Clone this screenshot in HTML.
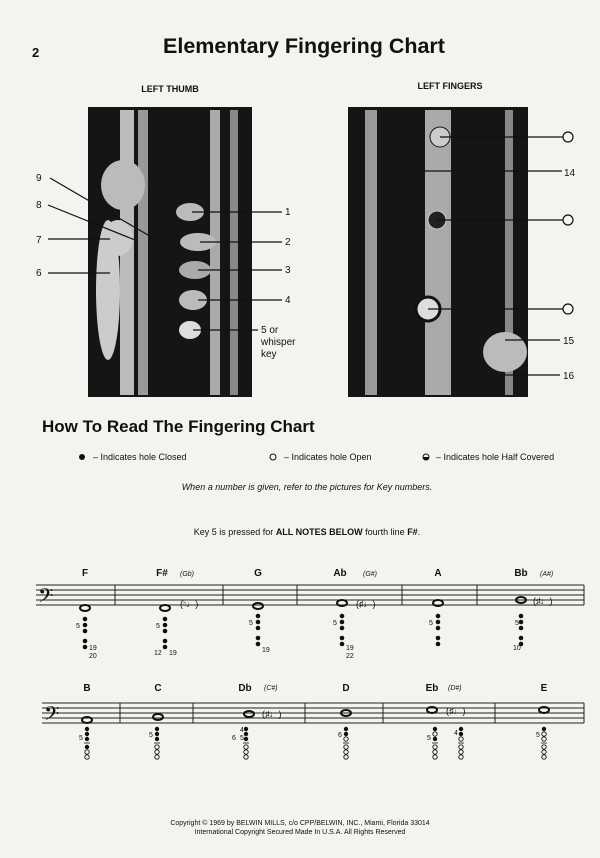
<!DOCTYPE html>
<html><head><meta charset="utf-8"><style>
body{margin:0;background:#f3f3ef;}
svg{display:block}
text{font-family:"Liberation Sans",sans-serif;fill:#111}
</style></head><body>
<svg width="600" height="858" viewBox="0 0 600 858">
<rect width="600" height="858" fill="#f3f3ef"/>
<text x="32" y="57" font-size="13" font-weight="bold">2</text>
<text x="304" y="53" font-size="21.5" font-weight="bold" text-anchor="middle">Elementary Fingering Chart</text>
<text x="170" y="92" font-size="9" font-weight="bold" text-anchor="middle">LEFT THUMB</text>
<text x="450" y="89" font-size="9" font-weight="bold" text-anchor="middle">LEFT FINGERS</text>
<!-- left photo -->
<rect x="88" y="107" width="164" height="290" fill="#151515"/>
<rect x="120" y="110" width="14" height="285" fill="#bbb"/>
<rect x="138" y="110" width="10" height="285" fill="#999"/>
<rect x="210" y="110" width="10" height="285" fill="#aaa"/>
<rect x="230" y="110" width="8" height="285" fill="#888"/>
<ellipse cx="123" cy="185" rx="22" ry="25" fill="#bbb"/>
<ellipse cx="118" cy="238" rx="15" ry="18" fill="#ccc"/>
<ellipse cx="108" cy="290" rx="12" ry="70" fill="#ccc"/>
<ellipse cx="190" cy="212" rx="14" ry="9" fill="#bbb"/>
<ellipse cx="198" cy="242" rx="18" ry="9" fill="#bbb"/>
<ellipse cx="195" cy="270" rx="16" ry="9" fill="#aaa"/>
<ellipse cx="193" cy="300" rx="14" ry="10" fill="#bbb"/>
<ellipse cx="190" cy="330" rx="11" ry="9" fill="#ddd"/>
<g stroke="#111" stroke-width="1.2">
<line x1="50" y1="178" x2="160" y2="242"/><line x1="48" y1="205" x2="135" y2="240"/>
<line x1="48" y1="239" x2="110" y2="239"/><line x1="48" y1="273" x2="110" y2="273"/>
<line x1="192" y1="212" x2="282" y2="212"/><line x1="200" y1="242" x2="282" y2="242"/>
<line x1="198" y1="270" x2="282" y2="270"/><line x1="198" y1="300" x2="282" y2="300"/>
<line x1="193" y1="330" x2="258" y2="330"/>
</g>
<g font-size="10"><text x="36" y="181">9</text><text x="36" y="208">8</text><text x="36" y="243">7</text><text x="36" y="276">6</text>
<text x="285" y="215">1</text><text x="285" y="245">2</text><text x="285" y="273">3</text><text x="285" y="303">4</text>
<text x="261" y="333">5 or</text><text x="261" y="345">whisper</text><text x="261" y="357">key</text></g>
<!-- right photo -->
<rect x="348" y="107" width="180" height="290" fill="#151515"/>
<rect x="365" y="110" width="12" height="285" fill="#999"/>
<rect x="425" y="110" width="26" height="285" fill="#aaa"/>
<rect x="505" y="110" width="8" height="285" fill="#888"/>
<circle cx="440" cy="137" r="10" fill="#ccc" stroke="#111"/>
<circle cx="437" cy="220" r="9" fill="#222" stroke="#ccc"/>
<circle cx="428" cy="309" r="12" fill="#ddd" stroke="#111" stroke-width="3"/>
<ellipse cx="505" cy="352" rx="22" ry="20" fill="#bbb"/>
<g stroke="#111" stroke-width="1.2" fill="#f3f3ef">
<line x1="440" y1="137" x2="563" y2="137"/><circle cx="568" cy="137" r="5"/>
<line x1="380" y1="171" x2="562" y2="171"/>
<line x1="437" y1="220" x2="563" y2="220"/><circle cx="568" cy="220" r="5"/>
<line x1="428" y1="309" x2="563" y2="309"/><circle cx="568" cy="309" r="5"/>
<line x1="505" y1="340" x2="560" y2="340"/><line x1="505" y1="375" x2="560" y2="375"/>
</g>
<g font-size="10"><text x="564" y="176">14</text><text x="563" y="344">15</text><text x="563" y="379">16</text></g>
<text x="42" y="432" font-size="17" font-weight="bold">How To Read The Fingering Chart</text>
<circle cx="82" cy="457" r="3" fill="#111"/><text x="93" y="460" font-size="9">–  Indicates hole Closed</text>
<circle cx="273" cy="457" r="3" fill="none" stroke="#111"/><text x="284" y="460" font-size="9">–  Indicates hole Open</text>
<circle cx="426" cy="457" r="3" fill="none" stroke="#111"/><path d="M423 457a3 3 0 0 0 6 0z" fill="#111"/><text x="436" y="460" font-size="9">–  Indicates hole Half Covered</text>
<text x="307" y="490" font-size="9" font-style="italic" text-anchor="middle">When a number is given, refer to the pictures for Key numbers.</text>
<text x="307" y="535" font-size="9" text-anchor="middle">Key 5 is pressed for <tspan font-weight="bold">ALL NOTES BELOW</tspan> fourth line <tspan font-weight="bold">F#</tspan>.</text>
<!-- staves -->
<g stroke="#222" stroke-width="1">
<line x1="36" y1="585" x2="584" y2="585"/><line x1="36" y1="590" x2="584" y2="590"/><line x1="36" y1="595" x2="584" y2="595"/><line x1="36" y1="600" x2="584" y2="600"/><line x1="36" y1="605" x2="584" y2="605"/>
<line x1="115" y1="585" x2="115" y2="605"/><line x1="223" y1="585" x2="223" y2="605"/><line x1="297" y1="585" x2="297" y2="605"/><line x1="402" y1="585" x2="402" y2="605"/><line x1="477" y1="585" x2="477" y2="605"/><line x1="584" y1="585" x2="584" y2="605"/>
<line x1="42" y1="703" x2="584" y2="703"/><line x1="42" y1="708" x2="584" y2="708"/><line x1="42" y1="713" x2="584" y2="713"/><line x1="42" y1="718" x2="584" y2="718"/><line x1="42" y1="723" x2="584" y2="723"/>
<line x1="120" y1="703" x2="120" y2="723"/><line x1="193" y1="703" x2="193" y2="723"/><line x1="305" y1="703" x2="305" y2="723"/><line x1="383" y1="703" x2="383" y2="723"/><line x1="495" y1="703" x2="495" y2="723"/><line x1="584" y1="703" x2="584" y2="723"/>
</g>
<text x="38" y="606" font-size="24">𝄢</text><text x="44" y="724" font-size="24">𝄢</text>
<g font-size="10" font-weight="bold" text-anchor="middle">
<text x="85" y="576">F</text><text x="162" y="576">F#</text><text x="258" y="576">G</text><text x="340" y="576">Ab</text><text x="438" y="576">A</text><text x="521" y="576">Bb</text>
<text x="87" y="691">B</text><text x="158" y="691">C</text><text x="245" y="691">Db</text><text x="346" y="691">D</text><text x="432" y="691">Eb</text><text x="544" y="691">E</text>
</g>
<g font-size="7" font-style="italic"><text x="180" y="576">(Gb)</text><text x="363" y="576">(G#)</text><text x="540" y="576">(A#)</text><text x="264" y="690">(C#)</text><text x="448" y="690">(D#)</text></g>
<g fill="none" stroke="#111" stroke-width="2">
<ellipse cx="85" cy="608" rx="5" ry="3"/><ellipse cx="165" cy="608" rx="5" ry="3"/><ellipse cx="258" cy="606" rx="5" ry="3"/><ellipse cx="342" cy="603" rx="5" ry="3"/><ellipse cx="438" cy="603" rx="5" ry="3"/><ellipse cx="521" cy="600" rx="5" ry="3"/>
<ellipse cx="87" cy="720" rx="5" ry="3"/><ellipse cx="158" cy="717" rx="5" ry="3"/><ellipse cx="249" cy="714" rx="5" ry="3"/><ellipse cx="346" cy="713" rx="5" ry="3"/><ellipse cx="432" cy="710" rx="5" ry="3"/><ellipse cx="544" cy="710" rx="5" ry="3"/>
</g>
<g font-size="9"><text x="356" y="607">(♯♩)</text><text x="533" y="604">(♯♩)</text><text x="180" y="607">(♮♩)</text><text x="262" y="717">(♯♩)</text><text x="446" y="714">(♯♩)</text></g>
<g fill="#111">
<circle cx="85" cy="619" r="2.3"/><circle cx="85" cy="625" r="2.3"/><circle cx="85" cy="631" r="2.3"/><circle cx="85" cy="641" r="2.3"/><circle cx="85" cy="647" r="2.3"/>
<circle cx="165" cy="619" r="2.3"/><circle cx="165" cy="625" r="2.3"/><circle cx="165" cy="631" r="2.3"/><circle cx="165" cy="641" r="2.3"/><circle cx="165" cy="647" r="2.3"/>
<circle cx="258" cy="616" r="2.3"/><circle cx="258" cy="622" r="2.3"/><circle cx="258" cy="628" r="2.3"/><circle cx="258" cy="638" r="2.3"/><circle cx="258" cy="644" r="2.3"/>
<circle cx="342" cy="616" r="2.3"/><circle cx="342" cy="622" r="2.3"/><circle cx="342" cy="628" r="2.3"/><circle cx="342" cy="638" r="2.3"/><circle cx="342" cy="644" r="2.3"/>
<circle cx="438" cy="616" r="2.3"/><circle cx="438" cy="622" r="2.3"/><circle cx="438" cy="628" r="2.3"/><circle cx="438" cy="638" r="2.3"/><circle cx="438" cy="644" r="2.3"/>
<circle cx="521" cy="616" r="2.3"/><circle cx="521" cy="622" r="2.3"/><circle cx="521" cy="628" r="2.3"/><circle cx="521" cy="638" r="2.3"/><circle cx="521" cy="644" r="2.3"/>
<circle cx="87" cy="729" r="2.2"/><circle cx="87" cy="734" r="2.2"/><circle cx="87" cy="739" r="2.2"/><circle cx="87" cy="747" r="2.2"/>
<circle cx="157" cy="729" r="2.2"/><circle cx="157" cy="734" r="2.2"/><circle cx="157" cy="739" r="2.2"/>
<circle cx="246" cy="729" r="2.2"/><circle cx="246" cy="734" r="2.2"/><circle cx="246" cy="739" r="2.2"/>
<circle cx="346" cy="729" r="2.2"/><circle cx="346" cy="734" r="2.2"/>
<circle cx="435" cy="729" r="2.2"/><circle cx="435" cy="739" r="2.2"/><circle cx="461" cy="729" r="2.2"/><circle cx="461" cy="734" r="2.2"/>
<circle cx="544" cy="729" r="2.2"/>
</g>
<g fill="none" stroke="#111" stroke-width="0.9">
<circle cx="87" cy="752" r="2.2"/><circle cx="87" cy="757" r="2.2"/>
<circle cx="157" cy="747" r="2.2"/><circle cx="157" cy="752" r="2.2"/><circle cx="157" cy="757" r="2.2"/>
<circle cx="246" cy="747" r="2.2"/><circle cx="246" cy="752" r="2.2"/><circle cx="246" cy="757" r="2.2"/>
<circle cx="346" cy="739" r="2.2"/><circle cx="346" cy="747" r="2.2"/><circle cx="346" cy="752" r="2.2"/><circle cx="346" cy="757" r="2.2"/>
<circle cx="435" cy="734" r="2.2"/><circle cx="435" cy="747" r="2.2"/><circle cx="435" cy="752" r="2.2"/><circle cx="435" cy="757" r="2.2"/>
<circle cx="461" cy="739" r="2.2"/><circle cx="461" cy="747" r="2.2"/><circle cx="461" cy="752" r="2.2"/><circle cx="461" cy="757" r="2.2"/>
<circle cx="544" cy="734" r="2.2"/><circle cx="544" cy="739" r="2.2"/><circle cx="544" cy="747" r="2.2"/><circle cx="544" cy="752" r="2.2"/><circle cx="544" cy="757" r="2.2"/>
</g>
<g stroke="#111" stroke-width="0.8">
<line x1="84" y1="743" x2="90" y2="743"/><line x1="154" y1="743" x2="160" y2="743"/><line x1="243" y1="743" x2="249" y2="743"/><line x1="343" y1="743" x2="349" y2="743"/><line x1="432" y1="743" x2="438" y2="743"/><line x1="458" y1="743" x2="464" y2="743"/><line x1="541" y1="743" x2="547" y2="743"/>
</g>
<g font-size="7">
<text x="76" y="628">5</text><text x="89" y="650">19</text><text x="89" y="658">20</text>
<text x="156" y="628">5</text><text x="154" y="655">12</text><text x="169" y="655">19</text>
<text x="249" y="625">5</text><text x="262" y="652">19</text>
<text x="333" y="625">5</text><text x="346" y="650">19</text><text x="346" y="658">22</text>
<text x="429" y="625">5</text><text x="515" y="625">5</text><text x="513" y="650">10</text>
<text x="79" y="740">5</text><text x="149" y="737">5</text><text x="232" y="740">6</text><text x="240" y="732">4</text><text x="240" y="740">5</text><text x="338" y="737">6</text>
<text x="427" y="740">5</text><text x="454" y="735">4</text><text x="536" y="737">5</text>
</g>
<g font-size="7" text-anchor="middle">
<text x="300" y="825">Copyright © 1969 by BELWIN MILLS, c/o CPP/BELWIN, INC., Miami, Florida 33014</text>
<text x="300" y="834">International Copyright Secured        Made In U.S.A.        All Rights Reserved</text>
</g>
</svg>
</body></html>
